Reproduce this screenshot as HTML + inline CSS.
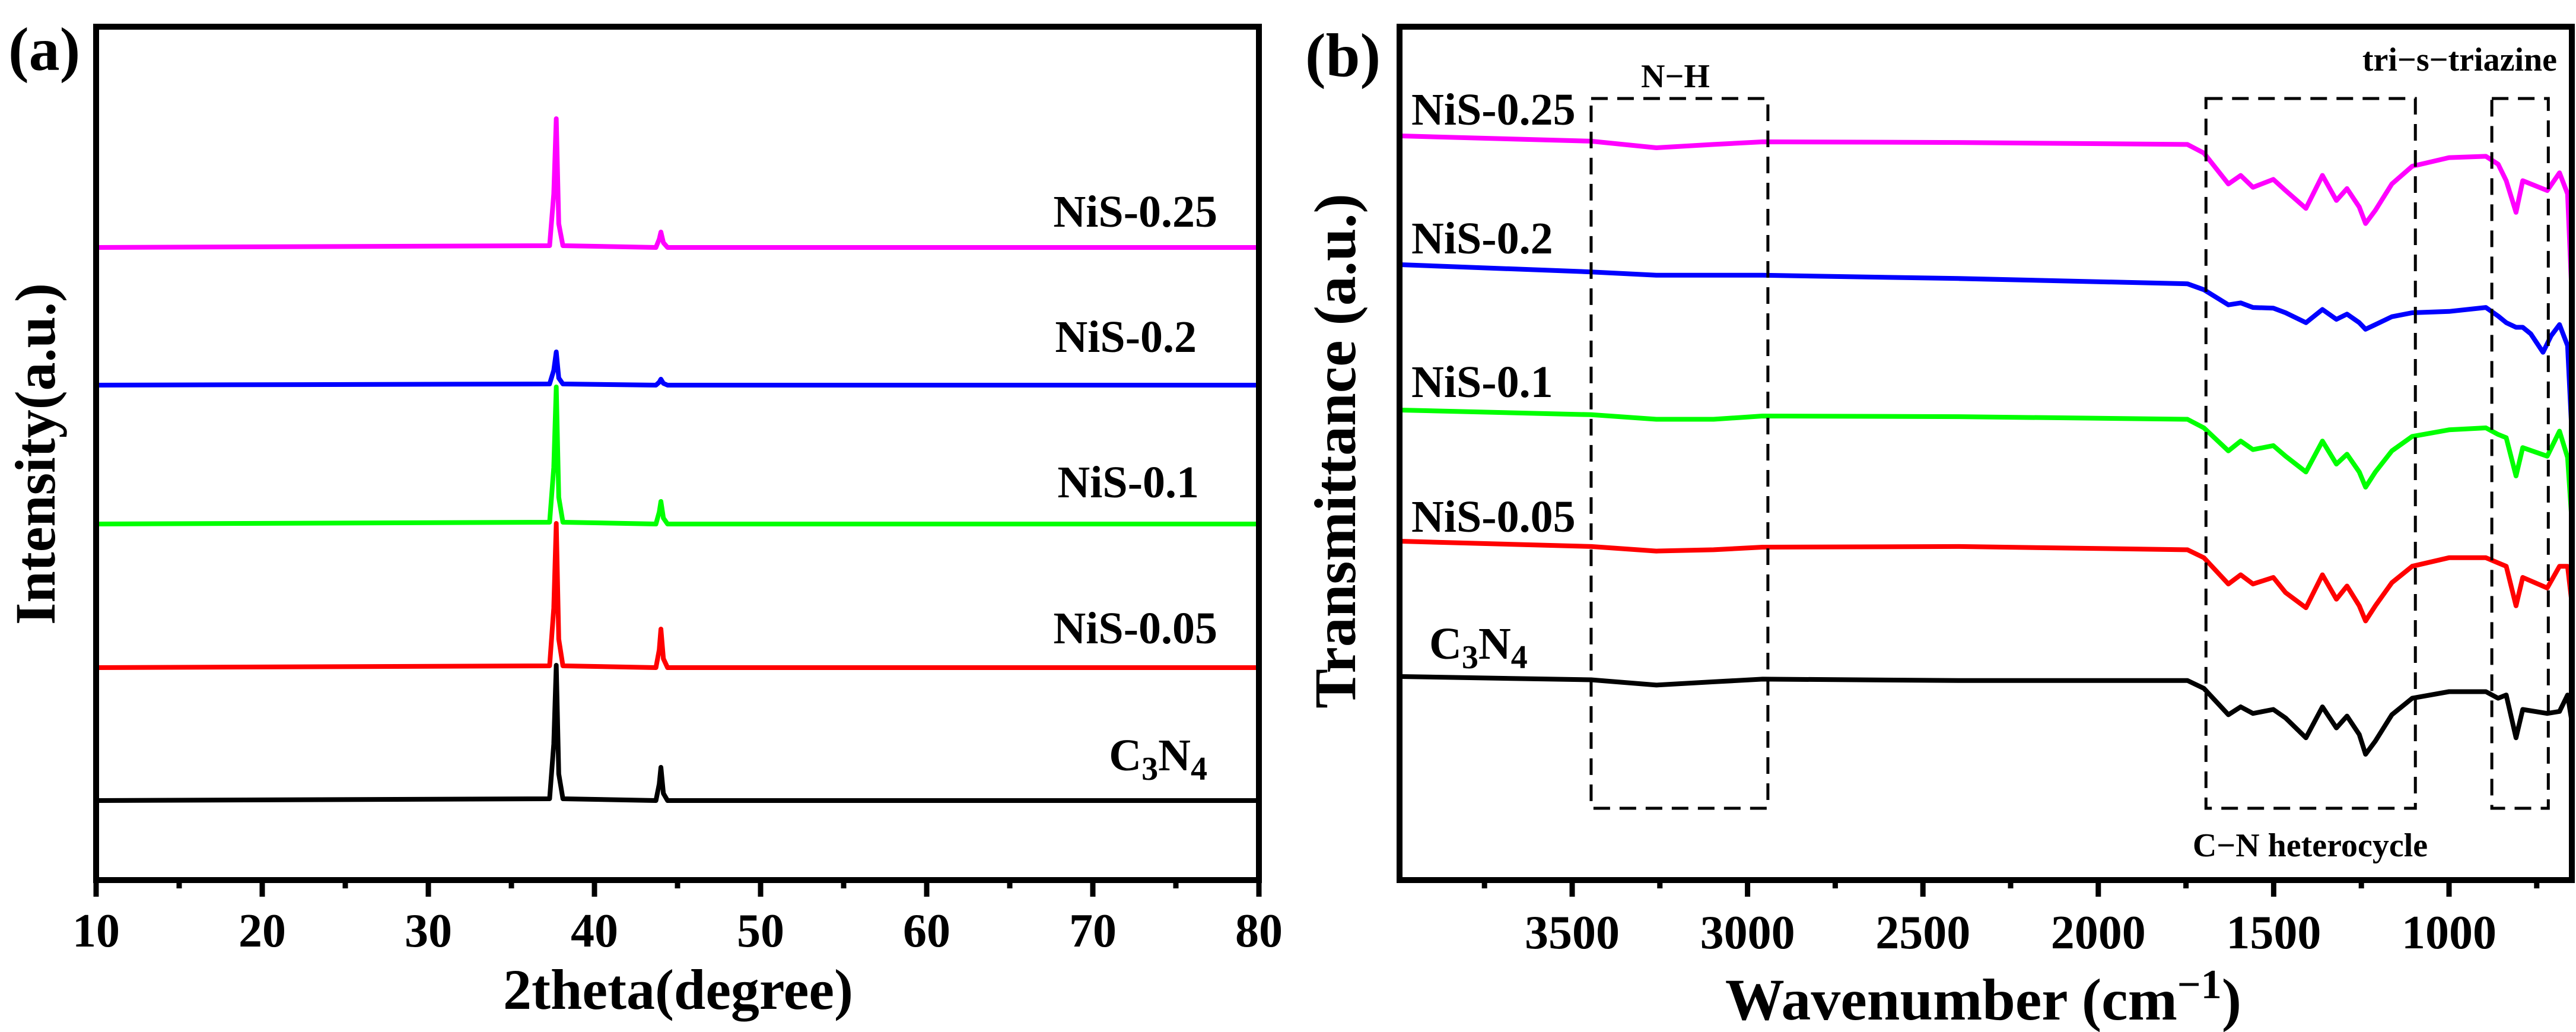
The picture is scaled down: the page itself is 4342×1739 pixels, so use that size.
<!DOCTYPE html>
<html><head><meta charset="utf-8"><style>
html,body{margin:0;padding:0;background:#fff;width:4342px;height:1739px;overflow:hidden}
svg{display:block;font-family:"Liberation Serif",serif;font-weight:bold}
</style></head><body>
<svg id="fig" width="4342" height="1739" viewBox="0 0 4342 1739" xmlns="http://www.w3.org/2000/svg">
<g id="pa"></g>
<g id="pb"></g>
</svg>
<script>
// ---- XRD data ----
const xrdTheta = [10, 37.3, 37.55, 37.7, 37.85, 38.1, 43.7, 43.9, 44.0, 44.15, 44.4, 80];
const xrdC3N4 = [0, 3, 95, 228, 45, 3, 0, 28, 56, 12, 0, 0];
const xrdNiS005 = [0, 3, 100, 243, 48, 3, 0, 30, 65, 15, 0, 0];
const xrdNiS01 = [0, 3, 95, 231, 45, 3, 0, 20, 38, 10, 0, 0];
const xrdNiS02 = [0, 2, 25, 56, 12, 2, 0, 5, 10, 3, 0, 0];
const xrdNiS025 = [0, 3, 90, 217, 40, 3, 0, 14, 26, 8, 0, 0];
const xrdTicks = [10, 20, 30, 40, 50, 60, 70, 80];
// ---- FTIR data ----
const wnA = [3989,3446,3260,3097,2957,2398,1746,1699,1629,1594,1559,1501,1466,1408,1361,1321,1291,1256,1238,1210,1163,1105,1000,895,860,837,809,790,720,685,662,650];
const wnB = [3989,3446,3260,3097,2957,2398,1746,1699,1629,1594,1559,1501,1466,1408,1361,1321,1291,1256,1238,1210,1163,1105,1000,895,860,837,809,790,767,732,709,685,662,650];
const ftC3N4 = [0,-0.5,-1.3,-0.8,-0.4,-0.6,-0.6,-1.8,-5.8,-4.6,-5.6,-5,-6.3,-9.3,-4.6,-7.8,-6,-8.8,-11.8,-9.8,-5.8,-3.3,-2.3,-2.3,-3.3,-2.8,-9.3,-5,-5.6,-5.3,-2.8,-6.8];
const ftNiS005 = [0,-0.8,-1.5,-1.3,-0.9,-0.8,-1.3,-2.5,-6.5,-5.1,-6.5,-5.5,-7.8,-10.1,-5.1,-8.8,-6.8,-9.8,-12.1,-9.8,-6.3,-3.8,-2.5,-2.5,-3.3,-3.8,-9.8,-5.5,-7.1,-3.8,-3.8,-9.3];
const ftNiS01 = [0,-0.7,-1.4,-1.4,-0.9,-1,-1.4,-2.7,-6.2,-4.7,-6,-5.4,-7,-9.4,-4.7,-8.2,-6.7,-9.4,-11.7,-9.4,-6.2,-4,-3,-2.7,-3.7,-4.2,-10,-5.7,-7,-3.2,-7.2,-16.7];
const ftNiS02 = [0,-1.1,-1.6,-1.6,-1.6,-2.1,-2.9,-3.8,-6.1,-5.8,-6.5,-6.6,-7.3,-8.8,-6.8,-8.3,-7.5,-8.8,-9.8,-9.1,-7.9,-7.3,-7.1,-6.5,-7.8,-8.8,-9.5,-9.5,-10.5,-13.3,-10.8,-9.1,-12.3,-25.3];
const ftNiS025 = [0,-0.8,-1.8,-1.3,-0.9,-1,-1.3,-2.6,-7.3,-6,-7.8,-6.6,-8.3,-11,-6,-9.8,-8,-10.8,-13.3,-11.3,-7.3,-4.6,-3.3,-3.1,-4.3,-6.8,-11.6,-6.8,-8.3,-5.6,-8.8,-23.8];
const ftTicks = [3500, 3000, 2500, 2000, 1500, 1000];

const NS = "http://www.w3.org/2000/svg";
function mk(parent, tag, attrs, text){
  const e = document.createElementNS(NS, tag);
  for (const k in attrs) e.setAttribute(k, attrs[k]);
  if (text !== undefined) e.textContent = text;
  parent.appendChild(e); return e;
}
const pa = document.getElementById('pa');
const pb = document.getElementById('pb');

// ---------- Panel A ----------
const aL = 162, aR = 2122, aT = 45, aB = 1483;
const xA = v => aL + (v - 10) / 70 * (aR - aL);
const xrdSeries = [
  {n:'c3n4', v:xrdC3N4, base:1349, c:'#000000', lab:'C3N4', lx:2035, ly:1298},
  {n:'nis-0.05', v:xrdNiS005, base:1125, c:'#ff0000', lab:'NiS-0.05', lx:2052, ly:1084},
  {n:'nis-0.1', v:xrdNiS01, base:883, c:'#00ff00', lab:'NiS-0.1', lx:2021, ly:838},
  {n:'nis-0.2', v:xrdNiS02, base:649, c:'#0000ff', lab:'NiS-0.2', lx:2017, ly:593},
  {n:'nis-0.25', v:xrdNiS025, base:417, c:'#ff00ff', lab:'NiS-0.25', lx:2052, ly:382}
];
xrdSeries.forEach(s => {
  const d = xrdTheta.map((t,i) => (i ? 'L' : 'M') + xA(t).toFixed(1) + ',' + (s.base - s.v[i]).toFixed(1)).join(' ');
  const p = mk(pa, 'path', {d:d, fill:'none', stroke:s.c, 'stroke-width':8, 'stroke-linejoin':'round'});
  
  
  let t;
  if (s.lab === 'C3N4') {
    t = mk(pa, 'text', {x:s.lx, y:s.ly, 'font-size':76, 'text-anchor':'end'});
    t.innerHTML = 'C<tspan font-size="56" dy="16">3</tspan><tspan dy="-16">N</tspan><tspan font-size="56" dy="16">4</tspan>';
  } else {
    t = mk(pa, 'text', {x:s.lx, y:s.ly, 'font-size':76, 'text-anchor':'end'}, s.lab);
  }
  
  
});
const frA = mk(pa, 'rect', {x:aL, y:aT, width:aR-aL, height:aB-aT, fill:'none', stroke:'#000', 'stroke-width':10});


for (let v = 10; v <= 80; v += 5) {
  const major = v % 10 === 0;
  const tk = mk(pa, 'line', {x1:xA(v), x2:xA(v), y1:aB, y2:aB + (major ? 28 : 14), stroke:'#000', 'stroke-width':9});
  
  
}
xrdTicks.forEach(v => {
  const t = mk(pa, 'text', {x:xA(v), y:1595, 'font-size':80, 'text-anchor':'middle'}, String(v));
  
  
});
const xtA = mk(pa, 'text', {x:1143, y:1700, 'font-size':96, 'text-anchor':'middle'}, '2theta(degree)');


const ytA = mk(pa, 'text', {x:0, y:0, 'font-size':96, 'text-anchor':'middle', transform:'translate(92,765) rotate(-90)'}, 'Intensity(a.u.)');


const plA = mk(pa, 'text', {x:14, y:118, 'font-size':104}, '(a)');



// ---------- Panel B ----------
const bL = 2359, bR = 4335, bT = 45, bB = 1483;
const xB = w => 2650 + (3500 - w) * 0.5912;
const ftSeries = [
  {n:'c3n4', w:wnA, v:ftC3N4, off:1140, c:'#000000', lab:'C3N4', lx:2409, ly:1110},
  {n:'nis-0.05', w:wnA, v:ftNiS005, off:912, c:'#ff0000', lab:'NiS-0.05', lx:2379, ly:896},
  {n:'nis-0.1', w:wnA, v:ftNiS01, off:691, c:'#00ff00', lab:'NiS-0.1', lx:2379, ly:669},
  {n:'nis-0.2', w:wnB, v:ftNiS02, off:446, c:'#0000ff', lab:'NiS-0.2', lx:2379, ly:427},
  {n:'nis-0.25', w:wnA, v:ftNiS025, off:229, c:'#ff00ff', lab:'NiS-0.25', lx:2379, ly:210}
];
ftSeries.forEach(s => {
  const d = s.w.map((w,i) => (i ? 'L' : 'M') + xB(w).toFixed(1) + ',' + (s.off - s.v[i] * 11.1).toFixed(1)).join(' ');
  const p = mk(pb, 'path', {d:d, fill:'none', stroke:s.c, 'stroke-width':8, 'stroke-linejoin':'round'});
  
  
  let t;
  if (s.lab === 'C3N4') {
    t = mk(pb, 'text', {x:s.lx, y:s.ly, 'font-size':76});
    t.innerHTML = 'C<tspan font-size="56" dy="16">3</tspan><tspan dy="-16">N</tspan><tspan font-size="56" dy="16">4</tspan>';
  } else {
    t = mk(pb, 'text', {x:s.lx, y:s.ly, 'font-size':76}, s.lab);
  }
  
  
});
const boxes = [
  {n:'n-h-box', a:3446, b:2942, t:166, bt:1362},
  {n:'c-n-heterocycle-box', a:1693, b:1096, t:166, bt:1362},
  {n:'tri-s-triazine-box', a:878, b:717, t:166, bt:1362}
];
boxes.forEach(bx => {
  const r = mk(pb, 'rect', {x:xB(bx.a), y:bx.t, width:xB(bx.b)-xB(bx.a), height:bx.bt-bx.t, fill:'none', stroke:'#000', 'stroke-width':5, 'stroke-dasharray':'28,16'});
  
  
});
const an1 = mk(pb, 'text', {x:2824, y:147, 'font-size':56, 'text-anchor':'middle'}, 'N−H');


const an2 = mk(pb, 'text', {x:4310, y:119, 'font-size':56, 'text-anchor':'end'}, 'tri−s−triazine');


const an3 = mk(pb, 'text', {x:3894, y:1443, 'font-size':56, 'text-anchor':'middle'}, 'C−N heterocycle');


const frB = mk(pb, 'rect', {x:bL, y:bT, width:bR-bL, height:bB-bT, fill:'none', stroke:'#000', 'stroke-width':10});


for (let w = 3750; w >= 750; w -= 250) {
  const major = w % 500 === 0;
  const tk = mk(pb, 'line', {x1:xB(w), x2:xB(w), y1:bB, y2:bB + (major ? 28 : 14), stroke:'#000', 'stroke-width':9});
  
  
}
ftTicks.forEach(w => {
  const t = mk(pb, 'text', {x:xB(w), y:1598, 'font-size':80, 'text-anchor':'middle'}, String(w));
  
  
});
const xtB = mk(pb, 'text', {x:3343, y:1718, 'font-size':100, 'text-anchor':'middle'});
xtB.innerHTML = 'Wavenumber (cm<tspan font-size="70" dy="-36">−1</tspan><tspan dy="36">)</tspan>';


const ytB = mk(pb, 'text', {x:0, y:0, 'font-size':100, 'text-anchor':'middle', transform:'translate(2284,760) rotate(-90)'}, 'Transmittance (a.u.)');


const plB = mk(pb, 'text', {x:2200, y:128, 'font-size':104}, '(b)');


</script>
</body></html>
